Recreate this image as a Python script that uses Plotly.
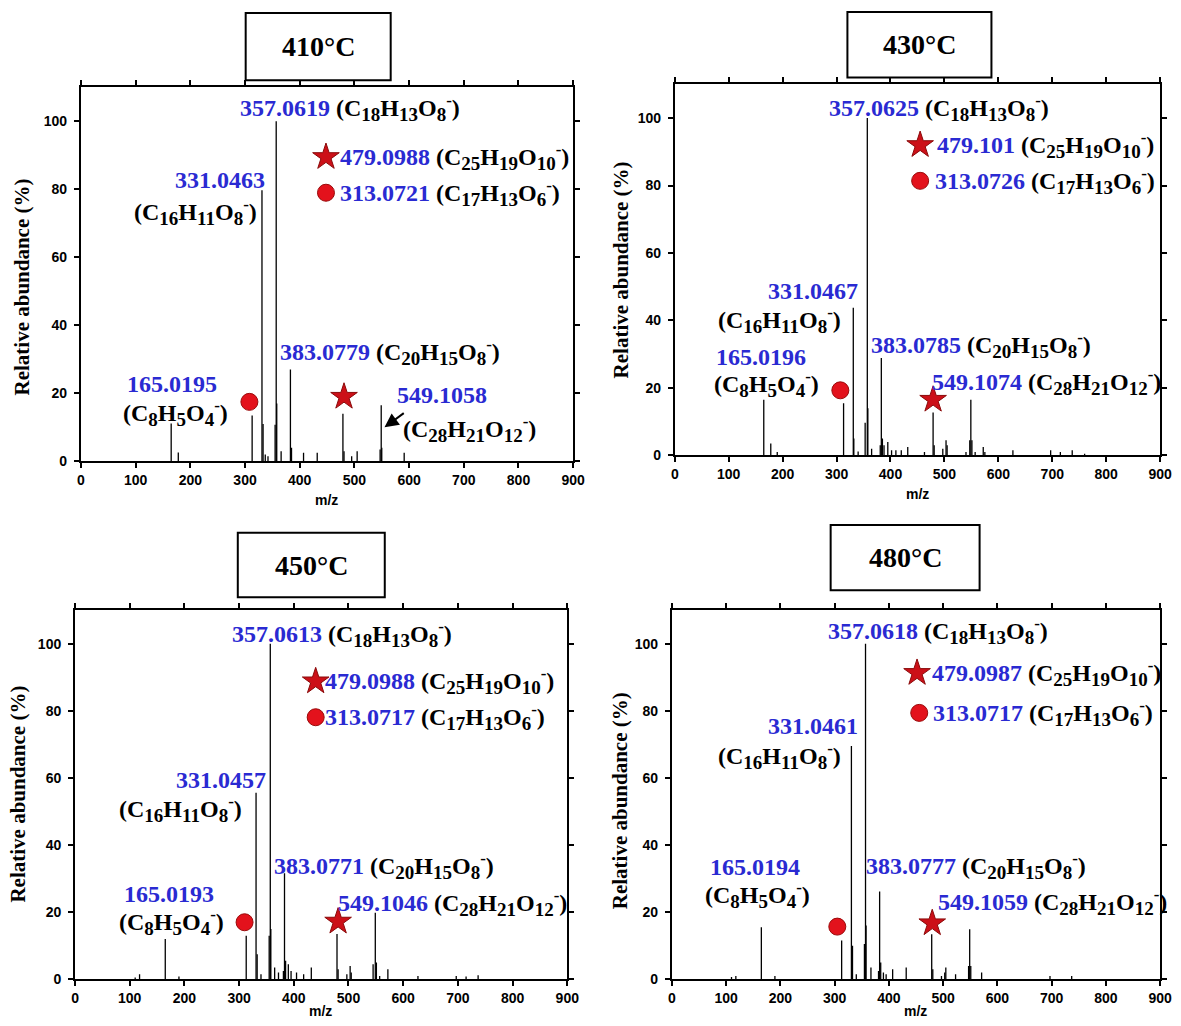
import re
import plotly.graph_objects as go

W, H = 1181, 1026

# ---------------- data ----------------
temps = ["410°C", "430°C", "450°C", "480°C"]

mz_410 = [165, 178, 313, 331, 333, 337, 342, 355, 357, 358, 366, 383, 385, 407, 432, 479, 481, 495, 505, 547, 549, 550, 591]
ab_410 = [11.1, 2.6, 13.5, 79.7, 11.0, 2.0, 1.5, 10.8, 100, 17.0, 3.0, 27.0, 4.0, 2.5, 2.5, 14.0, 3.0, 1.5, 3.0, 3.5, 16.5, 4.0, 2.5]

mz_430 = [165, 178, 190, 313, 331, 332, 340, 353, 357, 358, 365, 381, 383, 385, 388, 395, 402, 410, 420, 432, 463,
          479, 481, 497, 503, 505, 540, 547, 549, 551, 557, 572, 575, 627, 697, 715, 737, 760]
ab_430 = [16.5, 3.5, 1.0, 15.5, 43.8, 5.0, 1.2, 9.7, 100, 14.0, 2.0, 3.0, 28.9, 5.0, 3.0, 4.0, 1.5, 1.5, 1.5, 2.5, 1.0,
          12.7, 3.0, 2.0, 4.5, 3.0, 1.0, 4.5, 16.5, 4.5, 1.0, 2.5, 1.0, 1.5, 1.5, 1.0, 1.5, 0.5]

mz_450 = [110, 118, 165, 190, 313, 331, 333, 340, 355, 357, 358, 365, 372, 381, 383, 385, 390, 395, 405, 418, 432,
          479, 481, 497, 503, 505, 545, 549, 551, 557, 572, 627, 697, 715, 737]
ab_450 = [0.5, 1.5, 12.0, 0.8, 13.0, 55.6, 7.5, 1.5, 13.0, 100, 15.0, 3.5, 2.0, 2.5, 31.6, 5.5, 4.5, 2.5, 2.0, 1.5, 3.5,
          13.5, 3.0, 1.5, 4.0, 2.0, 4.5, 19.8, 5.0, 1.0, 3.0, 1.0, 1.0, 0.8, 1.2]

mz_480 = [110, 118, 165, 190, 313, 331, 333, 340, 355, 357, 358, 367, 381, 383, 385, 390, 395, 407, 432,
          479, 481, 497, 503, 505, 523, 547, 549, 551, 571, 697, 737]
ab_480 = [0.7, 1.0, 15.5, 1.0, 11.6, 69.5, 10.0, 1.5, 10.5, 100, 16.0, 3.5, 2.5, 26.2, 5.0, 2.0, 1.5, 3.0, 3.5,
          13.4, 3.0, 1.0, 2.0, 3.5, 1.5, 4.0, 14.9, 4.0, 2.0, 1.0, 1.0]

# labelled ions
ion_keys = ["357", "331", "383", "165", "549", "479", "313"]
formulas = {"357": "C18H13O8", "331": "C16H11O8", "383": "C20H15O8", "165": "C8H5O4",
            "549": "C28H21O12", "479": "C25H19O10", "313": "C17H13O6"}
masses_410 = ["357.0619", "331.0463", "383.0779", "165.0195", "549.1058", "479.0988", "313.0721"]
masses_430 = ["357.0625", "331.0467", "383.0785", "165.0196", "549.1074", "479.101", "313.0726"]
masses_450 = ["357.0613", "331.0457", "383.0771", "165.0193", "549.1046", "479.0988", "313.0717"]
masses_480 = ["357.0618", "331.0461", "383.0777", "165.0194", "549.1059", "479.0987", "313.0717"]

spectra = [(mz_410, ab_410, masses_410), (mz_430, ab_430, masses_430),
           (mz_450, ab_450, masses_450), (mz_480, ab_480, masses_480)]

# ---------------- layout (pixel geometry & label placement) ----------------
areas = [(78, 577, 88, 465), (680, 1172, 85, 459), (72, 571, 615, 987), (677, 1172, 615, 987)]
boxes = [(245, 13, 392, 81), (855, 12, 1001, 78), (237, 537, 386, 602), (838, 529, 989, 595)]
ytitle_pos = [(18, 289), (625, 272), (14, 800), (624, 807)]
xtitle_pos = [(327, 504), (926, 498), (321, 1019), (924, 1019)]

place = [
    {"357": ("one", 288, 104, "left"), "479": ("one", 470, 89.5, "left"), "313": ("one", 470, 79, "left"),
     "331": ("two", 255, 82.6, 210, 73.3, "center"), "383": ("one", 361, 32.2, "left"),
     "165": ("two", 166, 22.8, 173, 14.3, "center"), "549": ("two", 661, 19.6, 586, 9.6, "left"),
     "marks": {"star_leg": (448, 89.5), "circ_leg": (448, 79), "circ": (308, 17.5), "star": (481, 19)},
     "arrow": (593, 14.5, 555, 10)},
    {"357": ("one", 283, 103, "left"), "479": ("one", 482, 92, "left"), "313": ("one", 479, 81.4, "left"),
     "331": ("two", 257, 48.6, 195, 40.0, "center"), "383": ("one", 360, 32.7, "left"),
     "165": ("two", 160, 29.2, 171, 21.3, "center"), "549": ("one", 474, 21.8, "left"),
     "marks": {"star_leg": (455, 92), "circ_leg": (455, 81.4), "circ": (307, 19.3), "star": (479, 16.5)}},
    {"357": ("one", 283, 102.9, "left"), "479": ("one", 453, 88.8, "left"), "313": ("one", 453, 78.1, "left"),
     "331": ("two", 267, 59.3, 193, 50.7, "center"), "383": ("one", 360, 33.9, "left"),
     "165": ("two", 171, 25.4, 176, 17, "center"), "549": ("one", 477, 22.8, "left"),
     "marks": {"star_leg": (440, 88.8), "circ_leg": (440, 78.1), "circ": (310, 17), "star": (481, 17.2)}},
    {"357": ("one", 285, 103.7, "left"), "479": ("one", 476, 91.3, "left"), "313": ("one", 478, 79.4, "left"),
     "331": ("two", 260, 75.4, 199, 66.5, "center"), "383": ("one", 355, 33.9, "left"),
     "165": ("two", 153, 33.4, 158, 25, "center"), "549": ("one", 487, 23, "left"),
     "marks": {"star_leg": (452, 91.3), "circ_leg": (456, 79.4), "circ": (305, 15.7), "star": (480, 16.7)}},
]

BLUE = "#2a2ad2"
SERIF = "Liberation Serif"
SANS = "Liberation Sans"
LBL = 24
SUB = 19


def fhtml(f):
    parts = re.findall(r"([A-Z][a-z]?)(\d*)", f)
    s = "".join(el + (f"<sub><span style='font-size:{SUB}px'>{n}</span></sub>" if n else "") for el, n in parts)
    return f"({s}<sup><span style='font-size:{SUB - 2}px'>-</span></sup>)"


def px2paper_x(px):
    return px / W


def px2paper_y(py):
    return 1 - py / H


fig = go.Figure()
annotations = []
shapes = []

for i, ((mz, ab, masses), area, box) in enumerate(zip(spectra, areas, boxes)):
    xa = "x" if i == 0 else f"x{i+1}"
    ya = "y" if i == 0 else f"y{i+1}"
    xs, ys = [], []
    for m, a in zip(mz, ab):
        xs += [m, m, None]
        ys += [0, a, None]
    fig.add_trace(go.Scatter(x=xs, y=ys, mode="lines", line=dict(color="black", width=1.3),
                             xaxis=xa, yaxis=ya, showlegend=False, hoverinfo="skip"))
    p = place[i]
    mk = p["marks"]
    fig.add_trace(go.Scatter(x=[mk["circ_leg"][0], mk["circ"][0]], y=[mk["circ_leg"][1], mk["circ"][1]],
                             mode="markers", marker=dict(symbol="circle", size=17, color="#e3121c",
                                                         line=dict(color="#9a0a0a", width=1)),
                             xaxis=xa, yaxis=ya, showlegend=False, hoverinfo="skip"))
    fig.add_trace(go.Scatter(x=[mk["star_leg"][0], mk["star"][0]], y=[mk["star_leg"][1], mk["star"][1]],
                             mode="markers", marker=dict(symbol="star", size=20, color="#cc1018",
                                                         line=dict(color="#8a0a0a", width=1)),
                             xaxis=xa, yaxis=ya, showlegend=False, hoverinfo="skip"))

    left, right, top, bottom = area
    dom_x = [px2paper_x(left), px2paper_x(right)]
    dom_y = [px2paper_y(bottom), px2paper_y(top)]
    axis_common = dict(showline=True, linewidth=2, linecolor="black", mirror="ticks", ticks="outside",
                       ticklen=5, tickwidth=2, tickcolor="black", showgrid=False, zeroline=False,
                       tickfont=dict(family=SANS, size=14, color="black", weight="bold"))
    fig.update_layout(**{
        ("xaxis" if i == 0 else f"xaxis{i+1}"): dict(domain=dom_x, range=[0, 900], tick0=0, dtick=100,
                                                      anchor=ya, **axis_common),
        ("yaxis" if i == 0 else f"yaxis{i+1}"): dict(domain=dom_y, range=[0, 110],
                                                      tickvals=[0, 20, 40, 60, 80, 100],
                                                      ticklabelstandoff=4,
                                                      anchor=xa, **axis_common),
    })

    for key, mass in zip(ion_keys, masses):
        spec = p[key]
        num = f"<span style='color:{BLUE}'>{mass}</span>"
        font = dict(family=SERIF, size=LBL, color="black", weight="bold")
        if spec[0] == "one":
            _, x, y, xan = spec
            annotations.append(dict(x=x, y=y, xref=xa, yref=ya, text=num + " " + fhtml(formulas[key]),
                                    showarrow=False, xanchor=xan, yanchor="middle", font=font))
        else:
            _, nx, ny, fx, fy, fan = spec
            annotations.append(dict(x=nx, y=ny, xref=xa, yref=ya, text=num, showarrow=False,
                                    xanchor="center", yanchor="middle", font=font))
            annotations.append(dict(x=fx, y=fy, xref=xa, yref=ya, text=fhtml(formulas[key]), showarrow=False,
                                    xanchor=fan, yanchor="middle", font=font))
    if "arrow" in p:
        tx, ty, hx, hy = p["arrow"]
        annotations.append(dict(x=hx, y=hy, ax=tx, ay=ty, xref=xa, yref=ya, axref=xa, ayref=ya,
                                text="", showarrow=True, arrowhead=2, arrowsize=1.4, arrowwidth=2,
                                arrowcolor="black"))

    bx0, by0, bx1, by1 = box
    shapes.append(dict(type="rect", xref="paper", yref="paper",
                       x0=px2paper_x(bx0), x1=px2paper_x(bx1), y0=px2paper_y(by1), y1=px2paper_y(by0),
                       line=dict(color="black", width=2), fillcolor="white"))
    annotations.append(dict(x=px2paper_x((bx0 + bx1) / 2), y=px2paper_y((by0 + by1) / 2),
                            xref="paper", yref="paper", text=temps[i], showarrow=False,
                            xanchor="center", yanchor="middle",
                            font=dict(family=SERIF, size=28, color="black", weight="bold")))
    yx, yy = ytitle_pos[i]
    annotations.append(dict(x=px2paper_x(yx), y=px2paper_y(yy), xref="paper", yref="paper",
                            text="Relative abundance (%)", textangle=-90, showarrow=False,
                            xanchor="center", yanchor="middle",
                            font=dict(family=SERIF, size=21, color="black", weight="bold")))
    xx, xy = xtitle_pos[i]
    annotations.append(dict(x=px2paper_x(xx), y=px2paper_y(xy), xref="paper", yref="paper",
                            text="m/z", showarrow=False, xanchor="center", yanchor="middle",
                            font=dict(family=SANS, size=14, color="black", weight="bold")))

fig.update_layout(width=W, height=H, margin=dict(l=0, r=0, t=0, b=0),
                  paper_bgcolor="white", plot_bgcolor="white",
                  annotations=annotations, shapes=shapes, showlegend=False)

fig.write_html("out.html", config={"displayModeBar": False},
               post_script="document.body.style.margin='0';document.body.style.padding='0';"
                           "document.body.style.overflow='hidden';")
